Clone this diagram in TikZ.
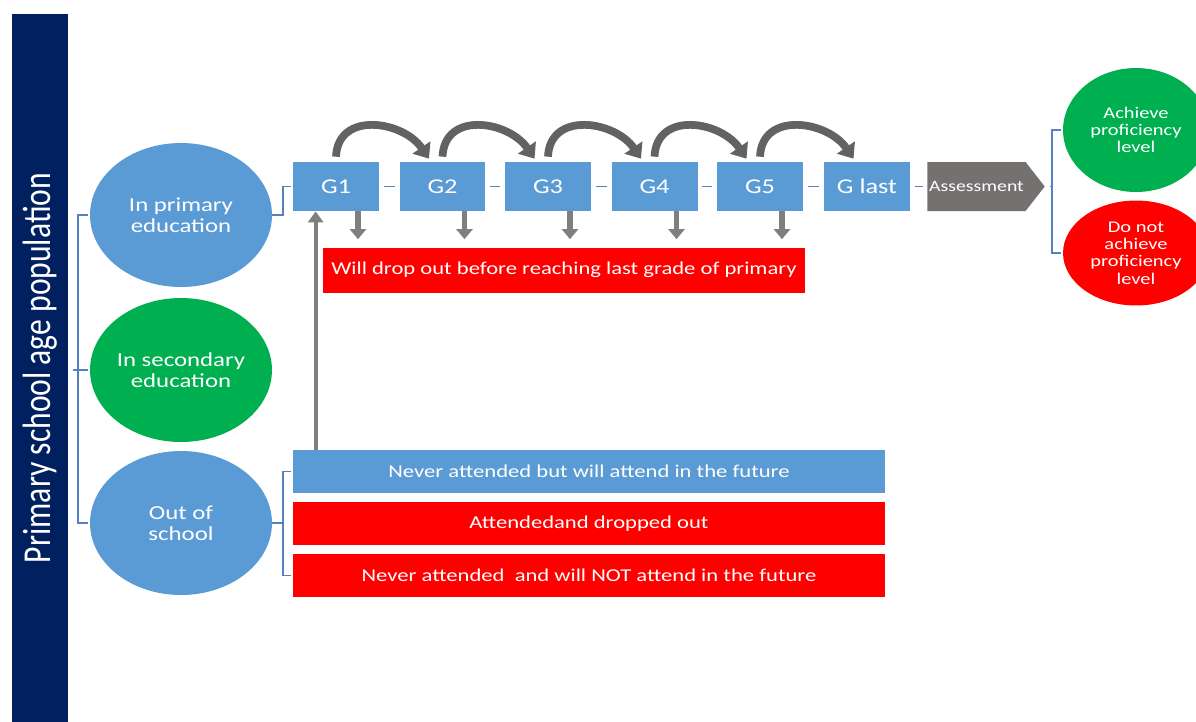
\documentclass[tikz,border=0pt]{standalone}
\usepackage{fontspec}
\setmainfont{Carlito}[FakeStretch=1.25]
\newfontfamily\barfont{Carlito}[FakeStretch=0.8]
\usetikzlibrary{positioning, arrows.meta, shapes.geometric, shapes.symbols}

\definecolor{popnavy}{HTML}{002060}
\definecolor{gblue}{HTML}{5B9BD5}
\definecolor{sgreen}{HTML}{00B050}
\definecolor{dred}{HTML}{FF0000}
\definecolor{agray}{HTML}{767171}
\definecolor{brblue}{RGB}{84,130,190}
\definecolor{hopgray}{HTML}{626262}
\definecolor{downgray}{HTML}{7F7F7F}

\begin{document}
\begin{tikzpicture}[
  x=0.02cm, y=-0.02cm,
  %% Node styles
  popbar/.style={
    fill=popnavy, text=white, rotate=90, inner sep=0pt,
    minimum width=14.18cm, minimum height=1.12cm,
    font=\barfont\fontsize{22.5}{26}\selectfont
  },
  popcircle/.style={
    ellipse, inner sep=0pt, align=center, text=white,
    minimum width=3.64cm, minimum height=2.88cm,
    font=\fontsize{11.3}{12}\selectfont
  },
  grade/.style={
    fill=gblue, text=white, inner sep=0pt,
    minimum width=1.72cm, minimum height=0.98cm,
    font=\fontsize{12}{14}\selectfont
  },
  assessbox/.style={
    signal, signal to=east, signal pointer angle=104,
    fill=agray, text=white, inner sep=1pt,
    minimum width=2.24cm, minimum height=0.98cm,
    font=\fontsize{9}{11}\selectfont
  },
  outcome/.style={
    ellipse, inner sep=0pt, align=center, text=white,
    minimum width=2.92cm,
    font=\fontsize{9.3}{9.8}\selectfont
  },
  pathbox/.style={
    text=white, inner sep=0pt, minimum height=0.86cm,
    font=\fontsize{10.3}{12}\selectfont
  },
  %% Line styles
  brack/.style={draw=brblue, line width=1.1pt},
  hop/.style={draw=hopgray, line width=4.4pt, -{Triangle[width=0.42cm, length=0.27cm]}},
  dropout/.style={draw=downgray, line width=3.2pt, -{Triangle[width=0.32cm, length=0.2cm]}},
  enrol/.style={draw=downgray, line width=2.4pt, -{Triangle[width=0.3cm, length=0.22cm]}},
]

\fill[white] (0,0) rectangle (1196,721);
\useasboundingbox (0,0) rectangle (1196,721);

%% ── POPULATION BAR ────────────────────────────────────────────────────────
\node[popbar] (pop) at (40,368) {Primary school age population};

%% ── GROUPS ────────────────────────────────────────────────────────────────
\node[popcircle, fill=gblue]  (prim) at (181,215) {In primary\\education};
\node[popcircle, fill=sgreen] (sec)  at (181,370) {In secondary\\education};
\node[popcircle, fill=gblue]  (oos)  at (181,523) {Out of\\school};

\draw[brack] ([xshift=-0.04cm]prim.west) -- ++(-10,0) coordinate (lb)
  |- ([xshift=-0.04cm]oos.west);
\draw[brack] ([xshift=-0.04cm]sec.west) -- ++(-15,0);

%% ── GRADES ────────────────────────────────────────────────────────────────
\foreach \n/\x/\t in {g1/336/G1, g2/442.5/G2, g3/548/G3, g4/654.5/G4,
                      g5/760/G5, glast/867/G last}
  \node[grade] (\n) at (\x,186.5) {\t};

\node[assessbox] (assess) at (976.5,186.5) {Assessment};

\draw[brack] (prim.east) -- ++(11,0) |- ([xshift=-0.04cm]g1.west);

\foreach \a/\b in {g1/g2, g2/g3, g3/g4, g4/g5, g5/glast, glast/assess}
  \draw[brack] ([xshift=0.09cm]\a.east) -- ([xshift=-0.09cm]\b.west);

%% Grade → next grade
\foreach \a/\b in {g1/g2, g2/g3, g3/g4, g4/g5, g5/glast}
  \draw[hop] ([yshift=0.1cm]\a.north) .. controls +(2,-46) and +(-26,-38) ..
    ([xshift=-0.27cm,yshift=0.06cm]\b.north);

%% ── DROP OUT ──────────────────────────────────────────────────────────────
\node[pathbox, fill=dred, minimum width=9.64cm, minimum height=0.9cm]
  (drop) at (564,270) {Will drop out before reaching last grade of primary};

\foreach \g in {g1, g2, g3, g4, g5}
  \draw[dropout] ([xshift=0.44cm]\g.south)
    -- ([xshift=0.44cm,yshift=0.16cm]\g.south |- drop.north);

%% ── OUT OF SCHOOL ─────────────────────────────────────────────────────────
\node[pathbox, fill=gblue, minimum width=11.84cm] (future) at (589,471.5)
  {Never attended but will attend in the future};
\node[pathbox, fill=dred, minimum width=11.84cm]  (left)   at (589,523.5)
  {Attendedand dropped out};
\node[pathbox, fill=dred, minimum width=11.84cm]  (never)  at (589,575.5)
  {Never attended\ \ and will NOT attend in the future};

\draw[brack] ([xshift=-0.04cm]future.west) -- ++(-8,0) coordinate (ob)
  |- ([xshift=-0.04cm]never.west);
\draw[brack] (oos.east) -- (oos.east -| ob);

\draw[enrol] ([xshift=0.46cm]g1.south west |- future.north)
  -- ([xshift=0.46cm]g1.south west);

%% ── OUTCOMES ──────────────────────────────────────────────────────────────
\node[outcome, fill=sgreen, minimum height=2.48cm] (ach)    at (1136,130)
  {Achieve\\proficiency\\level};
\node[outcome, fill=dred, minimum height=2.1cm]    (notach) at (1136,253)
  {Do not\\achieve\\proficiency\\level};

\draw[brack] ([xshift=-0.04cm]ach.west) -- ++(-9,0) coordinate (rb)
  |- ([xshift=-0.04cm]notach.west);
\draw[brack] ([xshift=0.1cm]assess.east) -- (assess.east -| rb);

\end{tikzpicture}
\end{document}
